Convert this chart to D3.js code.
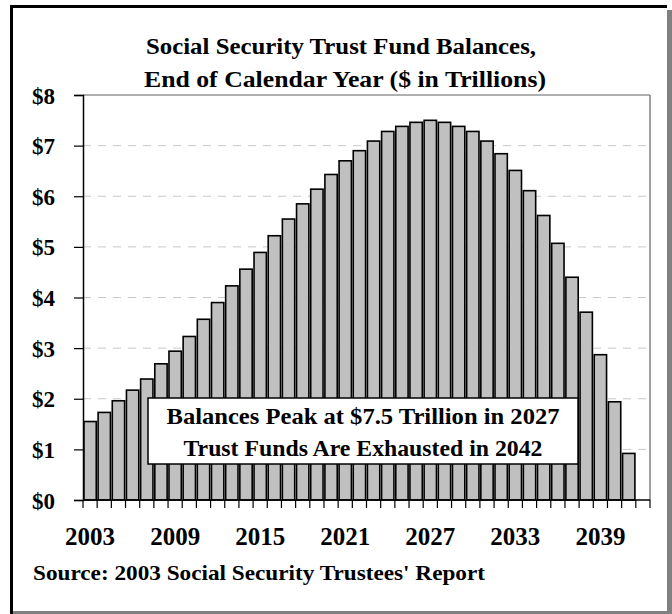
<!DOCTYPE html>
<html>
<head>
<meta charset="utf-8">
<script src="https://cdn.jsdelivr.net/npm/d3@7/dist/d3.min.js"></script>
<style>
  html, body { margin: 0; padding: 0; background: #fff; }
  svg { display: block; }
  text { font-family: "Liberation Serif", "Times New Roman", serif; font-weight: bold; fill: #000; }
</style>
</head>
<body>
<svg id="chart" width="672" height="614"></svg>
<script>
// ---- Data ----
const years = [2003, 2004, 2005, 2006, 2007, 2008, 2009, 2010, 2011, 2012,
               2013, 2014, 2015, 2016, 2017, 2018, 2019, 2020, 2021, 2022,
               2023, 2024, 2025, 2026, 2027, 2028, 2029, 2030, 2031, 2032,
               2033, 2034, 2035, 2036, 2037, 2038, 2039, 2040, 2041, 2042];
const balances = [1.55, 1.73, 1.96, 2.17, 2.39, 2.69, 2.94, 3.23, 3.57, 3.90,
                  4.23, 4.56, 4.89, 5.22, 5.55, 5.85, 6.14, 6.43, 6.70, 6.90,
                  7.09, 7.28, 7.38, 7.46, 7.50, 7.46, 7.38, 7.28, 7.09, 6.84,
                  6.51, 6.11, 5.62, 5.07, 4.40, 3.71, 2.87, 1.94, 0.92, 0.00];
const xTickLabels = [2003, 2009, 2015, 2021, 2027, 2033, 2039];
const yTicks = [0, 1, 2, 3, 4, 5, 6, 7, 8];
const titleLines = ["Social Security Trust Fund Balances,", "End of Calendar Year ($ in Trillions)"];
const noteLines = ["Balances Peak at $7.5 Trillion in 2027", "Trust Funds Are Exhausted in 2042"];
const sourceText = "Source: 2003 Social Security Trustees' Report";

// ---- Layout ----
const svg = d3.select("#chart");
const L = 83, R = 650, T = 95, B = 500;

const x = d3.scaleBand().domain(years).range([L, R]).paddingInner(0.13).paddingOuter(0.065);
const y = d3.scaleLinear().domain([0, 8]).range([B, T]);

// outer frame (black top/left, gray right/bottom)
svg.append("rect").attr("x", 667).attr("y", 10).attr("width", 5).attr("height", 604).attr("fill", "#808080");
svg.append("rect").attr("x", 13).attr("y", 611).attr("width", 659).attr("height", 3).attr("fill", "#808080");
svg.append("rect").attr("x", 10).attr("y", 5).attr("width", 657).attr("height", 3).attr("fill", "#000");
svg.append("rect").attr("x", 10).attr("y", 5).attr("width", 3).attr("height", 609).attr("fill", "#000");

// title
const titleCx = [341, 345], titleW = [390, 402];
svg.selectAll("text.title").data(titleLines).join("text")
  .attr("class", "title")
  .attr("x", (d, i) => titleCx[i]).attr("y", (d, i) => 54 + i * 33)
  .attr("text-anchor", "middle")
  .attr("textLength", (d, i) => titleW[i])
  .attr("lengthAdjust", "spacingAndGlyphs")
  .style("font-size", "23px")
  .text(d => d);

// gridlines
svg.append("g").selectAll("line").data(yTicks.filter(v => v > 0 && v < 8)).join("line")
  .attr("x1", L).attr("x2", R)
  .attr("y1", d => y(d)).attr("y2", d => y(d))
  .attr("stroke", "#c8c8c8").attr("stroke-width", 1)
  .attr("stroke-dasharray", "8,7");

// plot border top/right
svg.append("line").attr("x1", L).attr("x2", R).attr("y1", T).attr("y2", T).attr("stroke", "#606060").attr("stroke-width", 1);
svg.append("line").attr("x1", R).attr("x2", R).attr("y1", T).attr("y2", B).attr("stroke", "#808080").attr("stroke-width", 1.5);

// bars
svg.append("g").selectAll("rect")
  .data(years.map((yr, i) => ({ yr, v: balances[i] })).filter(d => d.v > 0))
  .join("rect")
  .attr("x", d => x(d.yr))
  .attr("width", x.bandwidth())
  .attr("y", d => y(d.v))
  .attr("height", d => y(0) - y(d.v))
  .attr("fill", "#c0c0c0")
  .attr("stroke", "#000")
  .attr("stroke-width", 1.6);

// y axis
const yAxis = d3.axisLeft(y).tickValues(yTicks).tickSize(9).tickFormat(d => "$" + d);
const gy = svg.append("g").attr("transform", `translate(${L},0)`).call(yAxis);
gy.select(".domain").attr("stroke", "#000").attr("stroke-width", 1.5);
gy.selectAll(".tick line").attr("stroke", "#000").attr("stroke-width", 1.2);
gy.selectAll(".tick text")
  .attr("x", -28)
  .attr("dy", "0.35em")
  .style("font-family", "'Liberation Serif', serif")
  .style("font-weight", "bold")
  .style("font-size", "23px")
  .attr("fill", "#000");

// x axis: line + ticks at category boundaries
const step = x.step();
const boundaries = d3.range(years.length + 1).map(i => L + i * step);
svg.append("line").attr("x1", L).attr("x2", R).attr("y1", B).attr("y2", B).attr("stroke", "#000").attr("stroke-width", 1.5);
svg.append("g").selectAll("line").data(boundaries).join("line")
  .attr("x1", d => d).attr("x2", d => d)
  .attr("y1", B).attr("y2", B + 8)
  .attr("stroke", "#000").attr("stroke-width", 1.2);

const xAxis = d3.axisBottom(x).tickValues(xTickLabels).tickSize(0).tickFormat(d3.format("d"));
const gx = svg.append("g").attr("transform", `translate(0,${B})`).call(xAxis);
gx.select(".domain").remove();
gx.selectAll(".tick text")
  .attr("y", 45).attr("dy", 0)
  .style("font-family", "'Liberation Serif', serif")
  .style("font-weight", "bold")
  .style("font-size", "25px")
  .attr("fill", "#000");

// annotation box
svg.append("rect").attr("x", 148).attr("y", 398).attr("width", 430).attr("height", 66)
  .attr("fill", "#fff").attr("stroke", "#000").attr("stroke-width", 1.5);
const noteW = [393, 359];
svg.selectAll("text.note").data(noteLines).join("text")
  .attr("class", "note")
  .attr("x", 363).attr("y", (d, i) => 424 + i * 32)
  .attr("text-anchor", "middle")
  .attr("textLength", (d, i) => noteW[i])
  .attr("lengthAdjust", "spacingAndGlyphs")
  .style("font-size", "23px")
  .text(d => d);

// source
svg.append("text").attr("x", 33).attr("y", 580)
  .attr("textLength", 452)
  .attr("lengthAdjust", "spacingAndGlyphs")
  .style("font-size", "21px")
  .text(sourceText);
</script>
</body>
</html>
